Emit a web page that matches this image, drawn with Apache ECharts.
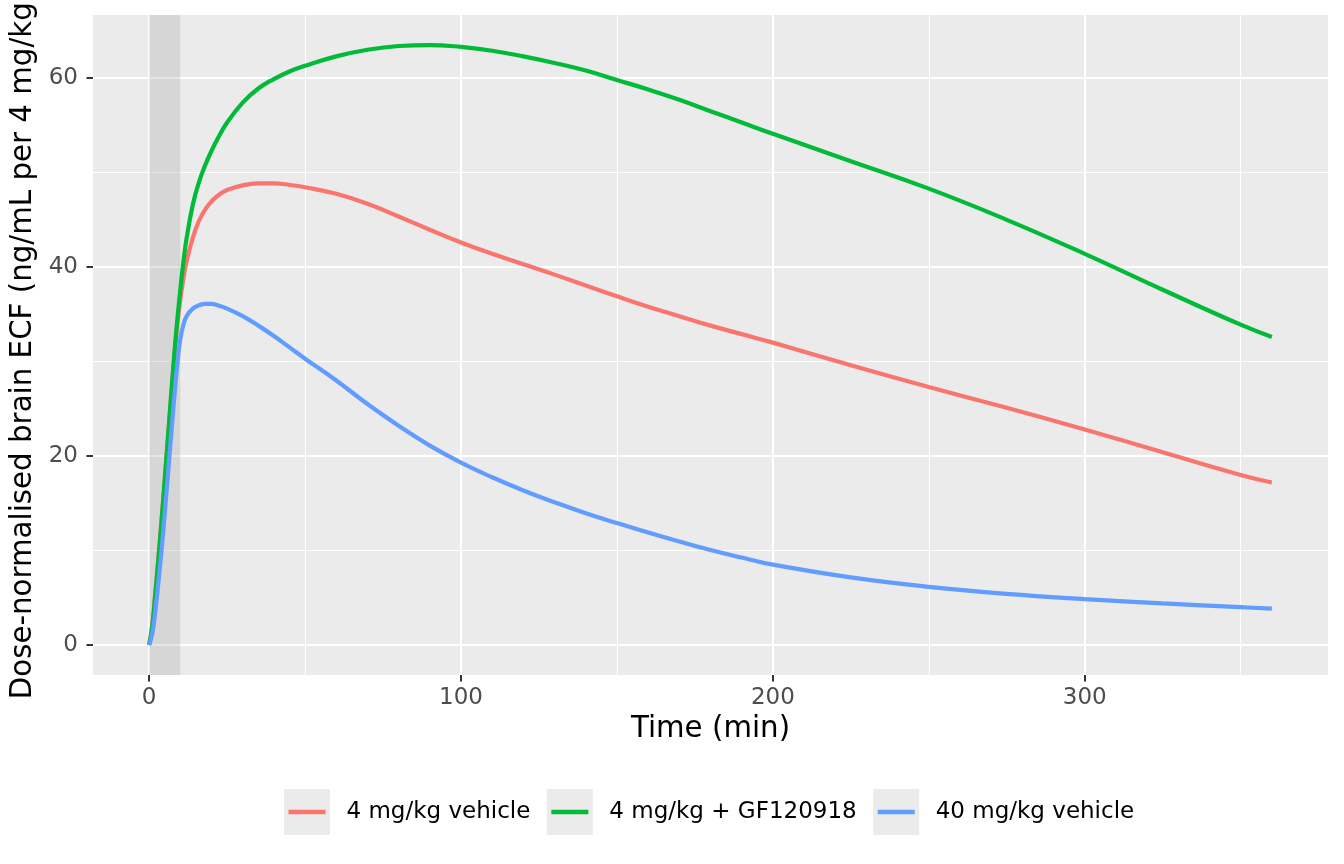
<!DOCTYPE html>
<html>
<head>
    <meta charset="utf-8">
    <title>Dose-normalised brain ECF</title>
    <script src="https://cdn.jsdelivr.net/npm/echarts@6/dist/echarts.min.js"></script>
    <style>
        html, body { margin: 0; padding: 0; background: #fff; }
        #chart1 { width: 1344px; height: 864px; }
    </style>
</head>
<body>
<div id="chart1"></div>
<script type="text/javascript">
    // time grid (min)
    var times = [0, 1, 2, 3, 4, 5, 6, 7, 8, 9, 10, 11, 12, 14, 16, 18, 20, 22, 25, 30, 35, 40, 45, 50,
        60, 70, 80, 90, 100, 110, 120, 130, 140, 150, 160, 170, 180, 190, 200, 225, 250, 275, 300, 325, 350, 360];

    var seriesNames = ['4 mg/kg vehicle', '4 mg/kg + GF120918', '40 mg/kg vehicle'];

    var vehicle4 = [0, 2, 5.5, 9.2, 13.2, 17.4, 21.7, 26.0, 30.2, 33.8, 36.6, 38.8, 40.6, 43.1, 44.9, 46.1, 46.95, 47.55, 48.15, 48.65, 48.85, 48.85,
        48.7, 48.45, 47.75, 46.7, 45.35, 43.95, 42.6, 41.4, 40.3, 39.2, 38.05, 36.9, 35.8, 34.8, 33.8, 32.9, 32.0,
        29.6, 27.3, 25.1, 22.8, 20.4, 18.0, 17.2];
    var gf4 = [0, 2, 5.5, 9.2, 13.2, 17.5, 21.8, 26.2, 30.5, 34.3, 37.6, 40.6, 43.0, 46.6, 49.0, 50.8, 52.3, 53.6, 55.3, 57.4, 58.9, 59.9,
        60.7, 61.3, 62.3, 63.0, 63.4, 63.5, 63.3, 62.9, 62.3, 61.6, 60.8, 59.8, 58.8, 57.7, 56.5, 55.3, 54.1,
        51.2, 48.3, 45.0, 41.4, 37.6, 33.9, 32.6];
    var vehicle40 = [0, 1.2, 3.6, 6.7, 10.1, 13.9, 17.9, 22.0, 26.0, 29.6, 32.4, 33.9, 34.8, 35.6, 35.95, 36.1, 36.1, 35.95, 35.6, 34.8, 33.8, 32.7,
        31.5, 30.3, 28.0, 25.5, 23.2, 21.1, 19.3, 17.75, 16.35, 15.1, 13.95, 12.9, 11.9, 10.95, 10.05, 9.25, 8.5,
        7.15, 6.15, 5.4, 4.85, 4.4, 4.0, 3.85];

    var colors = ['#F8766D', '#00BA38', '#619CFF'];

    // tick positions
    var xMajor = [0, 100, 200, 300];
    var xMinor = [50, 150, 250, 350];
    var yMajor = [0, 20, 40, 60];
    var yMinor = [10, 30, 50];

    // infusion period shading
    var infusion = [0, 10];

    function pairs(vals) {
        return times.map(function (t, i) { return [t, vals[i]]; });
    }

    var font = 'DejaVu Sans';
    var myChart1 = echarts.init(document.getElementById('chart1'));

    var allVals = [vehicle4, gf4, vehicle40];
    var series = allVals.map(function (v, i) {
        var s = {
            name: seriesNames[i],
            type: 'line',
            data: pairs(v),
            symbol: 'none',
            smooth: 0.45,
            lineStyle: {color: colors[i], width: 4.2},
            itemStyle: {color: colors[i]},
            z: 3
        };
        if (i === 0) {
            s.markArea = {
                silent: true,
                z: 1,
                itemStyle: {color: 'rgba(150,150,150,0.25)'},
                data: [[{xAxis: infusion[0]}, {xAxis: infusion[1]}]]
            };
        }
        return s;
    });

    myChart1.setOption({
        animation: false,
        grid: {
            left: 93, right: 16, top: 15, bottom: 189,
            outerBoundsMode: 'none',
            show: true, backgroundColor: '#EBEBEB', borderWidth: 0
        },
        legend: [
            {
                // grey key boxes, same spacing as the coloured legend
                left: 284, top: 789, padding: 0,
                itemWidth: 46, itemHeight: 46, itemGap: 17,
                icon: 'rect',
                selectedMode: false,
                itemStyle: {color: '#EBEBEB', borderWidth: 0},
                textStyle: {fontFamily: font, fontSize: 23, color: 'rgba(0,0,0,0)', padding: [0, 0, 0, 11]},
                data: seriesNames
            },
            {
                left: 288.5, top: 800.5, padding: 0,
                itemWidth: 37, itemHeight: 4.5, itemGap: 21,
                icon: 'rect',
                selectedMode: false,
                itemStyle: {borderWidth: 0},
                textStyle: {fontFamily: font, fontSize: 23, color: '#000', padding: [0, 0, 0, 16]},
                data: seriesNames
            }
        ],
        xAxis: [
            {
                type: 'value', min: -18, max: 378,
                name: 'Time (min)', nameLocation: 'middle', nameGap: 40,
                nameTextStyle: {fontFamily: font, fontSize: 29.3, color: '#000'},
                // sit on the panel bottom via the helper y axis (index 2)
                axisLine: {show: false, onZero: true, onZeroAxisIndex: 2},
                axisTick: {show: true, length: 6.5, customValues: xMajor, lineStyle: {color: '#333', width: 2}},
                axisLabel: {customValues: xMajor, margin: 12, fontFamily: font, fontSize: 23, color: '#4D4D4D'},
                splitLine: {show: true, lineStyle: {color: '#fff', width: 2.1}}
            },
            {
                type: 'value', min: -18, max: 378, position: 'top',
                axisLine: {show: false, onZero: false},
                axisTick: {show: false, customValues: xMinor},
                axisLabel: {show: false, customValues: xMinor},
                splitLine: {show: true, lineStyle: {color: '#fff', width: 1.1}}
            },
            {
                // helper: its zero is the panel's left edge
                type: 'value', min: 0, max: 1, show: false
            }
        ],
        yAxis: [
            {
                type: 'value', min: -3.18, max: 66.68,
                name: 'Dose-normalised brain ECF (ng/mL per 4 mg/kg)',
                nameLocation: 'middle', nameRotate: 90, nameGap: 38,
                nameTextStyle: {fontFamily: font, fontSize: 29.3, color: '#000'},
                axisLine: {show: false, onZero: true, onZeroAxisIndex: 2},
                axisTick: {show: true, length: 6.5, customValues: yMajor, lineStyle: {color: '#333', width: 2}},
                axisLabel: {customValues: yMajor, margin: 15, fontFamily: font, fontSize: 23, color: '#4D4D4D'},
                splitLine: {show: true, lineStyle: {color: '#fff', width: 2.1}}
            },
            {
                type: 'value', min: -3.18, max: 66.68, position: 'right',
                axisLine: {show: false, onZero: false},
                axisTick: {show: false, customValues: yMinor},
                axisLabel: {show: false, customValues: yMinor},
                splitLine: {show: true, lineStyle: {color: '#fff', width: 1.1}}
            },
            {
                // helper: its zero is the panel's bottom edge
                type: 'value', min: 0, max: 1, show: false
            }
        ],
        series: series
    });
</script>
</body>
</html>
